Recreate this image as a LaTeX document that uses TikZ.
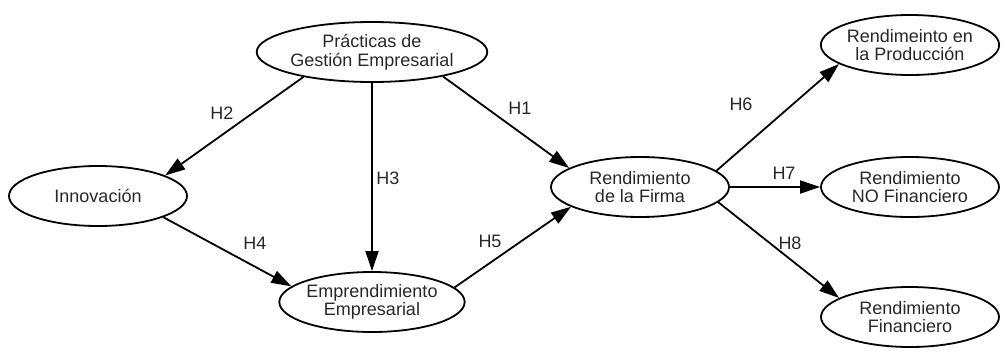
\documentclass[tikz,border=0pt]{standalone}
\usepackage{fontspec}
\setmainfont{Liberation Sans}
\usetikzlibrary{shapes.geometric,arrows.meta}
\definecolor{txt}{RGB}{40,40,40}
\tikzset{
  construct/.style={ellipse, draw=black, line width=1.8pt, minimum width=178pt,
    minimum height=60pt, inner sep=0pt, align=center, text=txt,
    font=\fontsize{18}{18.5}\selectfont},
  hyp/.style={line width=1.8pt, -{Triangle[length=20pt,width=13pt]}},
  hlabel/.style={text=txt, font=\fontsize{18}{18.5}\selectfont, inner sep=0pt}
}
\begin{document}
\begin{tikzpicture}[x=1pt,y=-1pt]
\useasboundingbox (0,0) rectangle (1002,362);
\node[construct] (P) at (372,52) {Prácticas de\\Gestión Empresarial};
\node[construct] (I) at (98,196) {Innovación};
\node[construct] (E) at (372,302) {Emprendimiento\\Empresarial};
\node[construct] (F) at (640,187) {Rendimiento\\de la Firma};
\node[construct] (Pr) at (910,45) {Rendimeinto en\\la Producción};
\node[construct] (N) at (910,187) {Rendimiento\\NO Financiero};
\node[construct] (Fi) at (910,317) {Rendimiento\\Financiero};

\draw[hyp] (P.200) -- (I.17);
\draw[hyp] (P.341) -- (F.165);
\draw[hyp] (P.south) -- (E.north);
\draw[hyp] (I.342) -- (E.169);
\draw[hyp] (E.10) -- (F.196);
\draw[hyp] (F.12) -- (Pr.195);
\draw[hyp] (F.0) -- (N.180);
\draw[hyp] (F.349) -- (Fi.165);

\node[hlabel] (h1) at (520,108) {H1};
\node[hlabel] (h2) at (222,113) {H2};
\node[hlabel] (h3) at (388,178) {H3};
\node[hlabel] (h4) at (255,243) {H4};
\node[hlabel] (h5) at (490,241) {H5};
\node[hlabel] (h6) at (741,104) {H6};
\node[hlabel] (h7) at (784,173) {H7};
\node[hlabel] (h8) at (790,243) {H8};
\end{tikzpicture}
\end{document}
